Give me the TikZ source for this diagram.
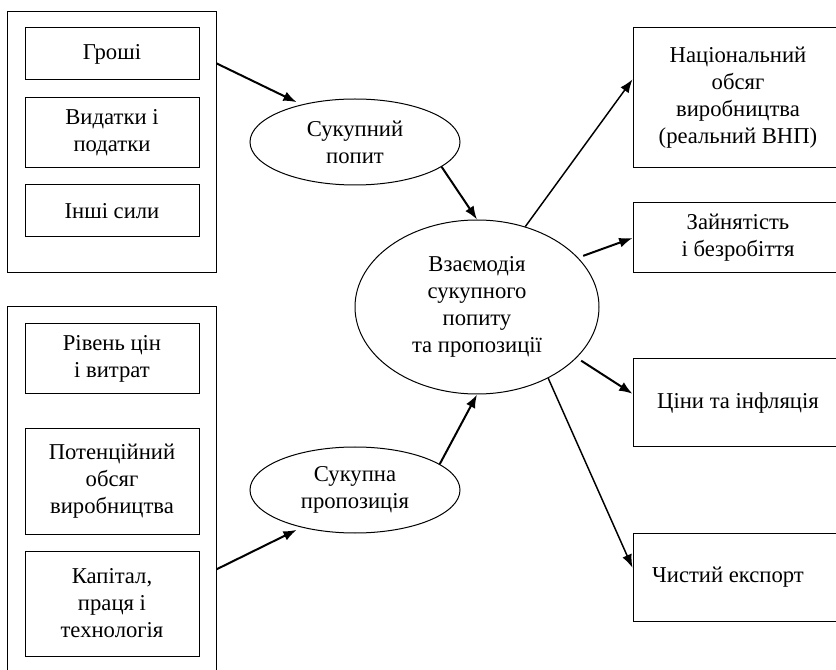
\documentclass[tikz,border=0pt]{standalone}
\usepackage{fontspec}
\setmainfont{Liberation Serif}
\usetikzlibrary{shapes.geometric,arrows.meta}
\tikzset{
  txt/.style={font=\fontsize{17}{20.25}\selectfont, align=center},
  outer/.style={draw, line width=0.75pt, inner sep=0pt},
  factor/.style={txt, draw, line width=0.75pt, minimum width=130.5pt, inner sep=0pt},
  result/.style={txt, draw, line width=0.75pt, minimum width=157.5pt, inner sep=0pt},
  oval/.style={txt, draw, ellipse, line width=0.75pt, inner sep=0pt},
  arr/.style={-{Latex[length=10pt,width=7.5pt]}, line width=1.5pt},
  arrthin/.style={arr, line width=1.1pt}
}
\begin{document}
\begin{tikzpicture}[x=0.75pt,y=-0.75pt]
\useasboundingbox (0,0) rectangle (836,670);
% Фактори попиту
\node[outer, minimum width=156.75pt, minimum height=195.75pt] (outerA) at (111.5,142.5) {};
\node[factor, minimum height=39pt] (money) at (112,54) {Гроші};
\node[factor, minimum height=52.5pt] (spend) at (112,133) {Видатки і\\податки};
\node[factor, minimum height=39pt] (other) at (112,211) {Інші сили};
% Фактори пропозиції
\node[outer, minimum width=156.75pt, minimum height=287.25pt] (outerB) at (111.5,498.5) {};
\node[factor, minimum height=52.5pt] (prices) at (112,359) {Рівень цін\\і витрат};
\node[factor, minimum height=78.75pt] (potential) at (112,481.5) {Потенційний\\обсяг\\виробництва};
\node[factor, minimum height=78.75pt] (capital) at (112,603.5) {Капітал,\\праця і\\технологія};
% Еліпси
\node[oval, minimum width=157.5pt, minimum height=64.5pt] (demand) at (355,142) {Сукупний\\попит};
\node[oval, minimum width=157.5pt, minimum height=64.5pt] (supply) at (355,490) {Сукупна\\пропозиція};
\node[oval, minimum width=183pt, minimum height=130.5pt] (inter) at (477,307) {Взаємодія\\сукупного\\попиту\\та пропозиції};
% Наслідки
\node[result, minimum height=105pt] (gnp) at (738,98) {Національний\\обсяг\\виробництва\\(реальний ВНП)};
\node[result, minimum height=52.5pt] (jobs) at (738,238) {Зайнятість\\і безробіття};
\node[result, minimum height=66pt] (infl) at (738,403) {Ціни та інфляція};
\node[result, minimum height=66pt] (export) at (738,577) {Чистий експорт\hspace*{15pt}};
% Стрілки
\draw[arr, shorten >=4pt] (outerA.37) -- (demand.145);
\draw[arr] (demand.-16) -- (inter.north);
\draw[arr, shorten >=4pt] (outerB.-34) -- (supply.215);
\draw[arr] (supply.17) -- (inter.south);
\draw[arrthin] (inter.59) -- (gnp.170);
\draw[arr, shorten <=4pt] (inter.26) -- (jobs.west);
\draw[arr, shorten <=4pt] (inter.-27) -- (infl.175);
\draw[arrthin] (inter.-45) -- (export.175);
\end{tikzpicture}
\end{document}
